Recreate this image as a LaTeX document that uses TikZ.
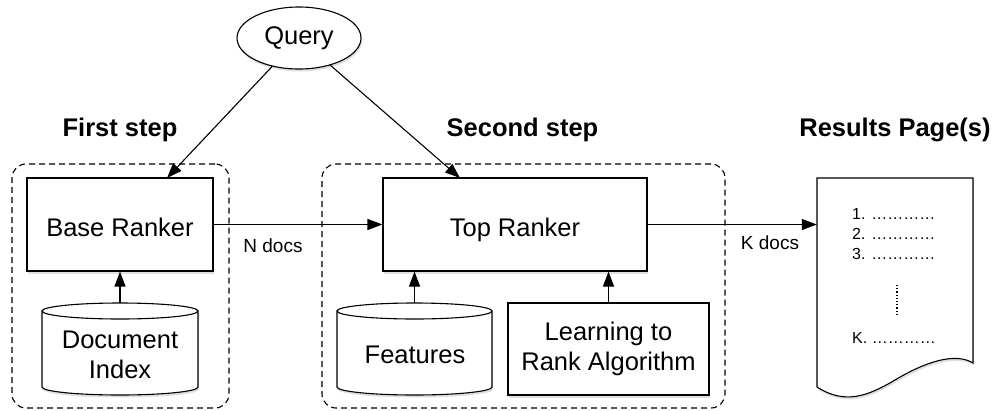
\documentclass[tikz,border=0pt]{standalone}
\usepackage{fontspec}
\setmainfont{Liberation Sans}
\usetikzlibrary{arrows.meta,shapes.geometric,shadows}
\newcommand{\mycyl}[4]{%
 \pgfmathsetmacro\myrx{(#2-#1)/2}%
 \draw[line width=1.1pt, fill=white, shd] (#1,#3+8) arc[start angle=180,end angle=360,x radius=\myrx,y radius=8] -- (#2,#4-8) arc[start angle=0,end angle=180,x radius=\myrx,y radius=8] -- cycle;
 \draw[line width=1.1pt] (#1,#3+8) arc[start angle=180,end angle=0,x radius=\myrx,y radius=8];
}
\begin{document}
\begin{tikzpicture}[x=1pt,y=-1pt,
  lbl/.style={font=\fontsize{25.5}{30}\selectfont, align=center},
  shd/.style={drop shadow={shadow xshift=1pt, shadow yshift=-2.5pt, opacity=0.25}},
  box/.style={draw, line width=1.1pt, fill=white, inner sep=0pt, lbl, shd},
  rk/.style={box, text height=24pt, text depth=0pt},
  grp/.style={draw, dash pattern=on 6pt off 4pt, line width=1.1pt, rounded corners=14pt, inner sep=0pt},
  arr/.style={-{Triangle[length=15pt,width=11pt]}, line width=1.1pt},
  small/.style={font=\fontsize{19}{22}\selectfont, inner sep=0pt},
  ttl/.style={font=\fontsize{25.5}{30}\selectfont\bfseries, inner sep=0pt, anchor=base},
  lst/.style={font=\fontsize{16}{18}\selectfont, anchor=base west, inner sep=0pt}
]
\useasboundingbox (0,0) rectangle (993,410);

% groups
\node[grp, minimum width=217pt, minimum height=244pt] (s1) at (120.5,286) {};
\node[grp, minimum width=403pt, minimum height=244pt] (s2) at (523.5,286) {};

% titles
\node[ttl] (t1) at (120,136) {First step};
\node[ttl] (t2) at (522.5,136.5) {Second step};
\node[ttl] (t3) at (895,136.5) {Results Page(s)};

% query
\node[ellipse, draw, line width=1.1pt, fill=white, shd, inner sep=0pt, minimum width=124pt, minimum height=62pt, lbl] (q) at (299,38) {Query};

% rankers
\node[rk, minimum width=186pt, minimum height=93pt] (br) at (120,224.5) {Base Ranker};
\node[rk, minimum width=264pt, minimum height=93pt] (tr) at (515,224.5) {Top Ranker};
\node[box, minimum width=201pt, minimum height=92pt] (ltr) at (608.5,349) {Learning to\\Rank Algorithm};

% cylinders
\mycyl{42}{198}{303}{395}
\node[inner sep=0pt, minimum width=156pt, minimum height=92pt] (di) at (120,349) {};
\node[lbl, inner sep=0pt] (dil) at (120,355) {Document\\Index};
\mycyl{337}{492}{303}{395}
\node[inner sep=0pt, minimum width=155pt, minimum height=92pt] (fe) at (414.5,349) {};
\node[lbl, inner sep=0pt] (fel) at (415,355) {Features};

% results page
\node[inner sep=0pt, minimum width=156pt, minimum height=209pt] (res) at (895,282.5) {};
\draw[line width=1.1pt, fill=white, shd] (817,178) -- (973,178) -- (973,363)
  .. controls (955,352) and (925,362) .. (895,380)
  .. controls (868,396) and (845,405) .. (817,387) -- cycle;
\node[lst] (r1) at (852,219) {1. …………};
\node[lst] (r2) at (852,239) {2. …………};
\node[lst] (r3) at (852,259) {3. …………};
\node[lst] (rk) at (852,343) {K. …………};
\draw[line width=1.2pt, dash pattern=on 1.2pt off 2pt] (897,285) -- (897,315);

% connectors
\coordinate (bq) at (167,178);
\coordinate (tq) at (460,178);
\draw[arr] (q) -- (bq);
\draw[arr] (q) -- (tq);
\draw[arr] (br.east) -- (tr.west);
\node[small] (nd) at (273,246) {N docs};
\draw[arr] (tr.east) -- (tr.east -| res.west);
\node[small] (kd) at (770,243) {K docs};
\draw[arr] (di.north) -- (br.south);
\draw[arr] (fe.north) -- (fe.north |- tr.south);
\draw[arr] (ltr.north) -- (ltr.north |- tr.south);
\end{tikzpicture}
\end{document}
